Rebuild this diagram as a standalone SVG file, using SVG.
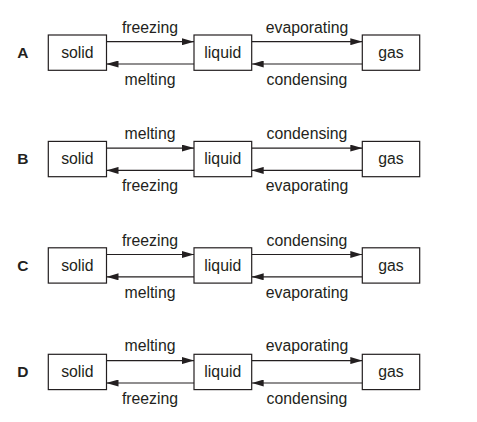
<svg xmlns="http://www.w3.org/2000/svg" width="477" height="422" viewBox="0 0 477 422">
<style>
.box{fill:#fff;stroke:#231f20;stroke-width:1.2}
.t{font-family:"Liberation Sans",Arial,sans-serif;font-size:15.8px;fill:#231f20;text-anchor:middle}
.l{font-family:"Liberation Sans",Arial,sans-serif;font-size:15.5px;font-weight:bold;fill:#231f20;text-anchor:middle}
.c{stroke:#231f20;stroke-width:1.2;fill:none;marker-end:url(#ah)}
</style>
<defs>
<marker id="ah" markerWidth="12" markerHeight="7" refX="12" refY="3.5" orient="auto" markerUnits="userSpaceOnUse">
<path d="M0,0 L12,3.5 L0,7 Z" fill="#231f20"/>
</marker>
</defs>
<rect width="477" height="422" fill="#fff"/>
<g id="connectors">
<line class="c" x1="106.5" y1="41.7" x2="194" y2="41.7"/>
<line class="c" x1="194" y1="64" x2="106.5" y2="64"/>
<line class="c" x1="251.7" y1="41.7" x2="362.3" y2="41.7"/>
<line class="c" x1="362.3" y1="64" x2="251.7" y2="64"/>
<line class="c" x1="106.5" y1="148.1" x2="194" y2="148.1"/>
<line class="c" x1="194" y1="170.4" x2="106.5" y2="170.4"/>
<line class="c" x1="251.7" y1="148.1" x2="362.3" y2="148.1"/>
<line class="c" x1="362.3" y1="170.4" x2="251.7" y2="170.4"/>
<line class="c" x1="106.5" y1="254.5" x2="194" y2="254.5"/>
<line class="c" x1="194" y1="276.8" x2="106.5" y2="276.8"/>
<line class="c" x1="251.7" y1="254.5" x2="362.3" y2="254.5"/>
<line class="c" x1="362.3" y1="276.8" x2="251.7" y2="276.8"/>
<line class="c" x1="106.5" y1="360.6" x2="194" y2="360.6"/>
<line class="c" x1="194" y1="383" x2="106.5" y2="383"/>
<line class="c" x1="251.7" y1="360.6" x2="362.3" y2="360.6"/>
<line class="c" x1="362.3" y1="383" x2="251.7" y2="383"/>
<text class="t" x="150" y="33">freezing</text>
<text class="t" x="150" y="85">melting</text>
<text class="t" x="307" y="33">evaporating</text>
<text class="t" x="307" y="85">condensing</text>
<text class="t" x="150" y="139.4">melting</text>
<text class="t" x="150" y="191.4">freezing</text>
<text class="t" x="307" y="139.4">condensing</text>
<text class="t" x="307" y="191.4">evaporating</text>
<text class="t" x="150" y="245.8">freezing</text>
<text class="t" x="150" y="297.8">melting</text>
<text class="t" x="307" y="245.8">condensing</text>
<text class="t" x="307" y="297.8">evaporating</text>
<text class="t" x="150" y="351.2">melting</text>
<text class="t" x="150" y="404">freezing</text>
<text class="t" x="307" y="351.2">evaporating</text>
<text class="t" x="307" y="404">condensing</text>
</g>
<g id="rowA">
<text class="l" x="22.8" y="57.9">A</text>
<g id="A-solid"><rect class="box" x="48.3" y="35" width="58.2" height="35.3"/><text class="t" x="77.4" y="57.9">solid</text></g>
<g id="A-liquid"><rect class="box" x="194" y="35" width="57.7" height="35.3"/><text class="t" x="222.8" y="57.9">liquid</text></g>
<g id="A-gas"><rect class="box" x="362.3" y="35" width="57.4" height="35.3"/><text class="t" x="391" y="57.9">gas</text></g>
</g>
<g id="rowB">
<text class="l" x="22.8" y="164.3">B</text>
<g id="B-solid"><rect class="box" x="48.3" y="141.4" width="58.2" height="35.3"/><text class="t" x="77.4" y="164.3">solid</text></g>
<g id="B-liquid"><rect class="box" x="194" y="141.4" width="57.7" height="35.3"/><text class="t" x="222.8" y="164.3">liquid</text></g>
<g id="B-gas"><rect class="box" x="362.3" y="141.4" width="57.4" height="35.3"/><text class="t" x="391" y="164.3">gas</text></g>
</g>
<g id="rowC">
<text class="l" x="22.8" y="270.7">C</text>
<g id="C-solid"><rect class="box" x="48.3" y="247.8" width="58.2" height="35.3"/><text class="t" x="77.4" y="270.7">solid</text></g>
<g id="C-liquid"><rect class="box" x="194" y="247.8" width="57.7" height="35.3"/><text class="t" x="222.8" y="270.7">liquid</text></g>
<g id="C-gas"><rect class="box" x="362.3" y="247.8" width="57.4" height="35.3"/><text class="t" x="391" y="270.7">gas</text></g>
</g>
<g id="rowD">
<text class="l" x="22.8" y="377.2">D</text>
<g id="D-solid"><rect class="box" x="48.3" y="354.3" width="58.2" height="35.3"/><text class="t" x="77.4" y="377.2">solid</text></g>
<g id="D-liquid"><rect class="box" x="194" y="354.3" width="57.7" height="35.3"/><text class="t" x="222.8" y="377.2">liquid</text></g>
<g id="D-gas"><rect class="box" x="362.3" y="354.3" width="57.4" height="35.3"/><text class="t" x="391" y="377.2">gas</text></g>
</g>
</svg>
